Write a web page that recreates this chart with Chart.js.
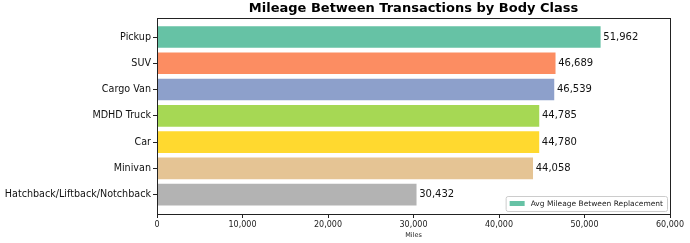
<!DOCTYPE html>
<html>
<head>
<meta charset="utf-8">
<script src="https://cdn.jsdelivr.net/npm/chart.js@4/dist/chart.umd.min.js"></script>
<style>
  html, body { margin: 0; padding: 0; background: #fff; }
  #wrap { width: 690px; height: 243px; }
</style>
</head>
<body>
<div id="wrap"><canvas id="mileageChart" width="690" height="243"></canvas></div>
<script>
const bodyClasses = ['Pickup', 'SUV', 'Cargo Van', 'MDHD Truck', 'Car', 'Minivan', 'Hatchback/Liftback/Notchback'];
const avgMileage = [51962, 46689, 46539, 44785, 44780, 44058, 30432];
const barColors = ['#66c2a5', '#fc8d62', '#8da0cb', '#a6d854', '#ffd92f', '#e5c494', '#b3b3b3'];
const xTicks = [0, 10000, 20000, 30000, 40000, 50000, 60000];
const seriesName = 'Avg Mileage Between Replacement';

const fmt = v => v.toLocaleString('en-US');
const FONT = 'DejaVu Sans';

// frame around the plot, like matplotlib's spines
const framePlugin = {
  id: 'frame',
  afterDraw(chart) {
    const { ctx, chartArea: a } = chart;
    ctx.save();
    ctx.strokeStyle = '#222';
    ctx.lineWidth = 1;
    ctx.strokeRect(Math.round(a.left) + 0.5, Math.round(a.top) + 0.5,
      Math.round(a.right - a.left), Math.round(a.bottom - a.top));
    ctx.restore();
  }
};

// value labels at the end of each bar
const valueLabels = {
  id: 'valueLabels',
  afterDatasetsDraw(chart) {
    const { ctx } = chart;
    const meta = chart.getDatasetMeta(0);
    ctx.save();
    ctx.font = '10px "' + FONT + '"';
    ctx.fillStyle = '#111';
    ctx.textBaseline = 'middle';
    meta.data.forEach((bar, i) => {
      ctx.fillText(fmt(avgMileage[i]), bar.x + 2, bar.y);
    });
    ctx.restore();
  }
};

// legend box in the lower right corner of the plot
const cornerLegend = {
  id: 'cornerLegend',
  afterDraw(chart) {
    const { ctx, chartArea: a } = chart;
    ctx.save();
    ctx.font = '7.5px "' + FONT + '"';
    const tw = ctx.measureText(seriesName).width;
    const w = tw + 29, h = 15;
    const x = a.right - 3 - w, y = a.bottom - 3 - h;
    ctx.fillStyle = 'rgba(255,255,255,0.8)';
    ctx.strokeStyle = '#ccc';
    ctx.lineWidth = 1;
    ctx.beginPath();
    ctx.roundRect(x + 0.5, y + 0.5, w, h, 2);
    ctx.fill();
    ctx.stroke();
    ctx.fillStyle = barColors[0];
    ctx.fillRect(x + 4, y + 5, 15, 5);
    ctx.fillStyle = '#222';
    ctx.textBaseline = 'middle';
    ctx.fillText(seriesName, x + 25, y + h / 2 + 0.5);
    ctx.restore();
  }
};

new Chart(document.getElementById('mileageChart').getContext('2d'), {
  type: 'bar',
  data: {
    datasets: [{
      label: seriesName,
      data: avgMileage.map((v, i) => ({ x: v, y: i })),
      backgroundColor: barColors,
      borderColor: '#fff',
      borderWidth: 1,
      barThickness: 23
    }]
  },
  options: {
    indexAxis: 'y',
    responsive: false,
    animation: false,
    layout: { padding: { left: 0, right: 20, top: 0, bottom: 4 } },
    plugins: {
      legend: { display: false },
      tooltip: { enabled: false },
      title: {
        display: true,
        text: 'Mileage Between Transactions by Body Class',
        fullSize: false,
        color: '#000',
        font: { family: FONT, size: 13, weight: 'bold' },
        padding: { top: 1, bottom: 1 }
      }
    },
    scales: {
      x: {
        type: 'linear',
        min: 0,
        max: 60000,
        afterBuildTicks: s => { s.ticks = xTicks.map(v => ({ value: v })); },
        afterFit: s => { s.height = 25; },
        border: { display: false },
        grid: { drawOnChartArea: false, drawTicks: true, tickLength: 4, color: '#222' },
        ticks: {
          color: '#222',
          font: { family: FONT, size: 8 },
          padding: 2,
          maxRotation: 0,
          callback: v => fmt(v)
        },
        title: {
          display: true,
          text: 'Miles',
          color: '#222',
          font: { family: FONT, size: 6.5 },
          padding: { top: 0, bottom: 0 }
        }
      },
      y: {
        type: 'linear',
        reverse: true,
        offset: false,
        min: -0.74,
        max: 6.74,
        afterBuildTicks: s => { s.ticks = bodyClasses.map((c, i) => ({ value: i })); },
        afterFit: s => { s.width = 157; },
        border: { display: false },
        grid: { offset: false, drawOnChartArea: false, drawTicks: true, tickLength: 4, color: '#222' },
        ticks: {
          color: '#111',
          font: { family: FONT, size: 9.6 },
          padding: 2,
          callback: v => bodyClasses[v]
        }
      }
    }
  },
  plugins: [framePlugin, valueLabels, cornerLegend]
});
</script>
</body>
</html>
